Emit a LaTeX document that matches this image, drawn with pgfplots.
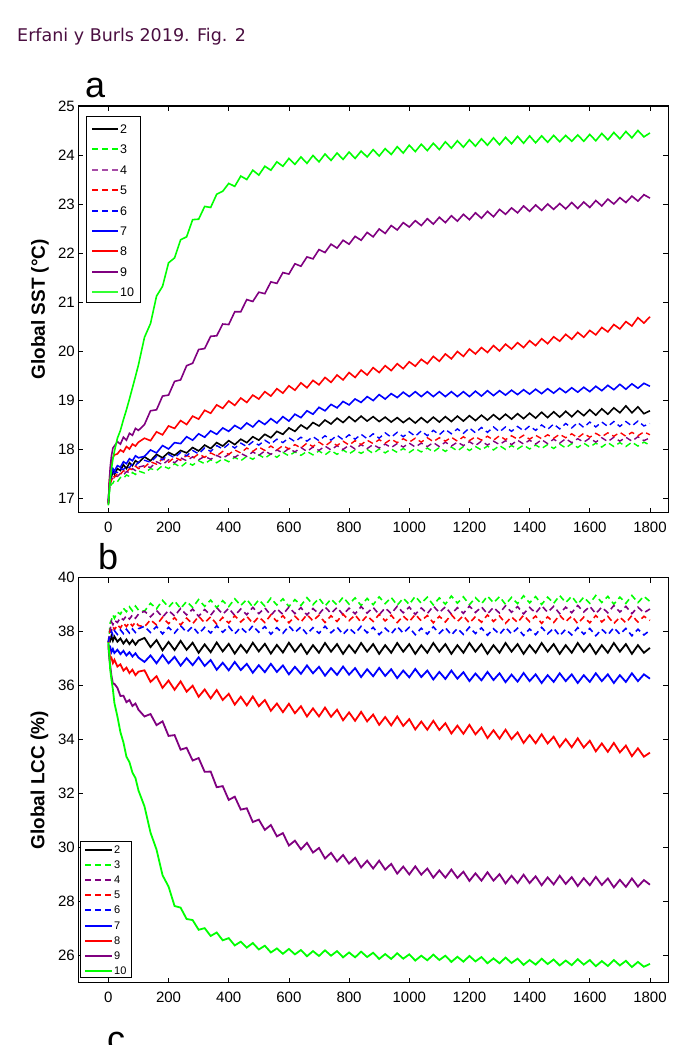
\documentclass[border=0pt]{standalone}
\usepackage{fontspec}
\setmainfont{Liberation Sans}
\newfontfamily\titlefont{DejaVu Sans}
\usepackage{pgfplots}
\usepackage{pgfplotstable}
\pgfplotsset{compat=1.18}
\definecolor{mgreen}{RGB}{0,255,0}
\definecolor{mpurple}{RGB}{128,0,128}
\definecolor{mblue}{RGB}{0,0,255}
\definecolor{mred}{RGB}{255,0,0}
\definecolor{titlecol}{HTML}{4A0E40}

\pgfplotstableread{
t s2 s3 s4 s5 s6 s7 s8 s9 s10
0 16.92 16.85 16.90 16.88 16.90 16.93 16.90 16.87 16.86
3 17.20 17.08 17.15 17.20 17.22 17.25 17.32 17.30 17.15
6 17.38 17.22 17.26 17.30 17.35 17.42 17.55 17.62 17.38
10 17.42 17.28 17.38 17.35 17.45 17.50 17.72 17.85 17.58
15 17.55 17.30 17.40 17.46 17.48 17.60 17.82 18.02 17.80
20 17.48 17.36 17.45 17.42 17.53 17.55 17.88 18.06 17.95
30 17.60 17.33 17.44 17.50 17.52 17.66 17.90 18.15 18.22
40 17.56 17.42 17.50 17.48 17.60 17.63 17.98 18.10 18.38
50 17.68 17.40 17.47 17.56 17.58 17.74 17.94 18.24 18.60
60 17.60 17.47 17.54 17.52 17.65 17.70 18.05 18.18 18.80
70 17.72 17.44 17.52 17.60 17.62 17.80 18.00 18.32 19.02
80 17.66 17.52 17.60 17.58 17.70 17.76 18.10 18.28 19.25
90 17.76 17.48 17.56 17.65 17.66 17.86 18.06 18.42 19.48
100 17.72 17.55 17.63 17.60 17.73 17.82 18.14 18.38 19.72
120 17.84 17.51 17.66 17.63 17.77 17.85 18.22 18.50 20.28
140 17.76 17.60 17.62 17.74 17.73 17.98 18.17 18.78 20.56
160 17.89 17.56 17.74 17.69 17.85 17.92 18.35 18.80 21.12
180 17.82 17.66 17.68 17.80 17.78 18.07 18.29 19.08 21.32
200 17.93 17.60 17.78 17.73 17.89 18.00 18.47 19.10 21.80
220 17.87 17.70 17.72 17.83 17.82 18.13 18.42 19.38 21.90
240 17.97 17.63 17.82 17.77 17.93 18.11 18.58 19.41 22.27
260 17.92 17.73 17.76 17.87 17.86 18.25 18.50 19.70 22.33
280 18.03 17.67 17.84 17.81 17.97 18.18 18.67 19.75 22.68
300 17.96 17.76 17.78 17.90 17.90 18.31 18.61 20.03 22.69
320 18.08 17.70 17.85 17.83 18.02 18.24 18.79 20.05 22.95
340 18.01 17.78 17.79 17.92 17.95 18.37 18.73 20.30 22.93
360 18.13 17.72 17.87 17.86 18.07 18.30 18.90 20.31 23.20
380 18.06 17.80 17.81 17.95 18.00 18.43 18.83 20.55 23.26
400 18.17 17.74 17.89 17.89 18.10 18.36 18.98 20.54 23.42
420 18.09 17.83 17.83 17.98 18.02 18.48 18.89 20.80 23.36
440 18.20 17.76 17.91 17.92 18.12 18.41 19.04 20.80 23.57
460 18.13 17.85 17.85 18.02 18.05 18.53 18.95 21.05 23.50
480 18.25 17.79 17.94 17.95 18.15 18.45 19.10 21.01 23.69
500 18.18 17.88 17.87 18.04 18.08 18.58 19.02 21.20 23.59
520 18.30 17.81 17.96 17.97 18.18 18.50 19.17 21.17 23.77
540 18.23 17.90 17.89 18.06 18.10 18.62 19.08 21.41 23.69
560 18.36 17.83 17.98 17.98 18.20 18.53 19.23 21.38 23.86
580 18.30 17.93 17.92 18.07 18.13 18.66 19.14 21.60 23.77
600 18.43 17.86 18.01 18.00 18.23 18.57 19.29 21.57 23.93
620 18.36 17.94 17.94 18.09 18.15 18.71 19.20 21.78 23.81
640 18.49 17.87 18.03 18.02 18.24 18.64 19.35 21.73 23.96
660 18.41 17.95 17.95 18.12 18.16 18.78 19.25 21.92 23.83
680 18.54 17.88 18.04 18.05 18.25 18.71 19.40 21.88 23.99
700 18.47 17.96 17.97 18.14 18.17 18.85 19.31 22.07 23.86
720 18.59 17.88 18.06 18.06 18.27 18.78 19.46 22.01 24.02
740 18.51 17.97 17.98 18.15 18.18 18.91 19.36 22.18 23.89
760 18.63 17.89 18.07 18.07 18.28 18.84 19.51 22.10 24.04
780 18.54 17.98 17.99 18.16 18.19 18.97 19.41 22.26 23.91
800 18.66 17.90 18.08 18.08 18.29 18.90 19.56 22.18 24.06
820 18.56 17.98 18.00 18.17 18.20 19.02 19.46 22.34 23.93
840 18.67 17.91 18.09 18.09 18.30 18.95 19.61 22.26 24.08
860 18.57 17.99 18.01 18.18 18.21 19.07 19.51 22.42 23.96
880 18.66 17.91 18.09 18.11 18.31 18.99 19.66 22.33 24.11
900 18.56 18.00 18.02 18.19 18.22 19.11 19.56 22.49 23.98
920 18.65 17.92 18.10 18.12 18.33 19.02 19.70 22.40 24.13
940 18.55 18.00 18.03 18.20 18.24 19.13 19.60 22.56 24.01
960 18.64 17.93 18.11 18.13 18.34 19.05 19.74 22.47 24.17
980 18.54 18.01 18.04 18.21 18.25 19.16 19.64 22.62 24.04
1000 18.63 17.93 18.12 18.14 18.35 19.07 19.78 22.53 24.20
1020 18.53 18.01 18.04 18.22 18.26 19.17 19.69 22.66 24.07
1040 18.64 17.94 18.12 18.14 18.37 19.07 19.83 22.56 24.22
1060 18.54 18.02 18.05 18.23 18.27 19.17 19.74 22.70 24.09
1080 18.65 17.94 18.13 18.15 18.38 19.07 19.89 22.59 24.24
1100 18.55 18.03 18.05 18.23 18.29 19.17 19.79 22.73 24.11
1120 18.66 17.95 18.14 18.16 18.40 19.07 19.94 22.62 24.27
1140 18.56 18.04 18.06 18.24 18.31 19.17 19.84 22.76 24.14
1160 18.67 17.96 18.14 18.16 18.41 19.07 19.99 22.65 24.29
1180 18.57 18.05 18.07 18.25 18.32 19.17 19.89 22.79 24.16
1200 18.68 17.97 18.15 18.17 18.43 19.07 20.04 22.68 24.31
1220 18.58 18.05 18.07 18.25 18.33 19.18 19.94 22.82 24.18
1240 18.69 17.98 18.16 18.18 18.44 19.08 20.07 22.71 24.33
1260 18.59 18.06 18.08 18.26 18.34 19.19 19.97 22.85 24.20
1280 18.70 17.98 18.16 18.18 18.45 19.09 20.11 22.74 24.35
1300 18.60 18.07 18.09 18.27 18.35 19.19 20.00 22.89 24.21
1320 18.71 17.99 18.17 18.19 18.45 19.10 20.14 22.79 24.36
1340 18.61 18.07 18.09 18.27 18.36 19.20 20.04 22.92 24.23
1360 18.72 18.00 18.18 18.20 18.46 19.11 20.17 22.82 24.38
1380 18.62 18.08 18.10 18.28 18.37 19.21 20.07 22.96 24.24
1400 18.73 18.00 18.18 18.20 18.47 19.12 20.21 22.85 24.39
1420 18.63 18.08 18.10 18.28 18.38 19.22 20.11 22.98 24.25
1440 18.75 18.01 18.19 18.21 18.49 19.13 20.25 22.87 24.39
1460 18.64 18.09 18.11 18.29 18.40 19.23 20.15 23.00 24.26
1480 18.76 18.01 18.20 18.22 18.51 19.14 20.29 22.89 24.40
1500 18.65 18.10 18.12 18.30 18.41 19.24 20.20 23.01 24.27
1520 18.77 18.02 18.21 18.23 18.52 19.15 20.34 22.90 24.40
1540 18.66 18.11 18.13 18.31 18.43 19.25 20.24 23.03 24.28
1560 18.78 18.03 18.21 18.23 18.54 19.16 20.38 22.91 24.41
1580 18.68 18.12 18.14 18.32 18.44 19.26 20.28 23.04 24.28
1600 18.80 18.04 18.22 18.24 18.55 19.17 20.42 22.93 24.42
1620 18.69 18.12 18.14 18.32 18.45 19.28 20.33 23.07 24.29
1640 18.82 18.04 18.23 18.25 18.55 19.19 20.48 22.96 24.44
1660 18.71 18.13 18.15 18.33 18.46 19.30 20.39 23.10 24.31
1680 18.84 18.05 18.24 18.26 18.56 19.21 20.54 23.00 24.46
1700 18.74 18.13 18.16 18.34 18.46 19.32 20.45 23.13 24.33
1720 18.88 18.05 18.24 18.26 18.56 19.22 20.60 23.03 24.48
1740 18.74 18.14 18.16 18.34 18.47 19.33 20.51 23.16 24.35
1760 18.86 18.06 18.25 18.27 18.57 19.24 20.68 23.06 24.50
1780 18.72 18.14 18.17 18.35 18.47 19.34 20.57 23.19 24.37
1800 18.78 18.08 18.23 18.29 18.52 19.28 20.70 23.12 24.45
}\tabA

\pgfplotstableread{
t s2 s3 s4 s5 s6 s7 s8 s9 s10
0 37.60 37.55 37.60 37.58 37.62 37.55 37.50 37.45 37.60
3 37.75 37.90 37.95 37.76 37.80 37.42 37.30 37.02 37.15
6 37.68 38.33 38.08 38.05 37.80 37.44 37.00 36.76 36.60
10 37.84 38.42 38.37 38.03 38.02 37.24 37.04 36.38 36.25
15 37.67 38.62 38.26 38.20 37.88 37.36 36.84 36.08 35.86
20 37.82 38.50 38.42 38.07 38.04 37.21 36.96 36.07 35.36
30 37.63 38.72 38.34 38.25 37.90 37.33 36.71 35.92 34.86
40 37.75 38.65 38.52 38.14 38.07 37.17 36.79 35.62 34.28
50 37.56 38.87 38.44 38.32 37.93 37.29 36.56 35.63 33.90
60 37.71 38.74 38.59 38.19 38.09 37.12 36.67 35.39 33.37
70 37.54 38.92 38.47 38.34 37.95 37.24 36.47 35.47 33.17
80 37.69 38.77 38.62 38.21 38.10 37.08 36.59 35.25 32.78
90 37.52 38.95 38.50 38.36 37.97 37.20 36.39 35.34 32.58
100 37.67 38.80 38.65 38.23 38.11 37.04 36.52 35.11 32.12
120 37.77 38.76 38.76 38.18 38.20 36.88 36.57 34.86 31.53
140 37.43 39.05 38.55 38.44 37.97 37.12 36.14 34.95 30.56
160 37.69 38.85 38.79 38.25 38.19 36.83 36.35 34.54 29.93
180 37.31 39.16 38.54 38.53 37.92 37.14 35.92 34.68 28.98
200 37.62 38.91 38.79 38.30 38.16 36.83 36.19 34.14 28.56
220 37.32 39.14 38.58 38.52 37.95 37.07 35.85 34.17 27.84
240 37.66 38.86 38.86 38.25 38.22 36.74 36.16 33.63 27.78
260 37.33 39.12 38.62 38.50 37.98 37.02 35.78 33.70 27.36
280 37.59 38.90 38.84 38.29 38.19 36.76 36.00 33.23 27.32
300 37.22 39.19 38.57 38.57 37.92 37.05 35.59 33.32 26.96
320 37.53 38.94 38.82 38.33 38.16 36.73 35.86 32.81 27.02
340 37.24 39.17 38.61 38.55 37.95 36.95 35.53 32.82 26.73
360 37.60 38.89 38.89 38.28 38.22 36.59 35.84 32.24 26.86
380 37.27 39.15 38.65 38.53 37.98 36.85 35.47 32.28 26.57
400 37.55 38.93 38.87 38.32 38.19 36.57 35.70 31.77 26.65
420 37.19 39.22 38.60 38.59 37.92 36.88 35.30 31.89 26.38
440 37.51 38.97 38.84 38.36 38.16 36.58 35.59 31.41 26.52
460 37.23 39.20 38.63 38.57 37.95 36.81 35.27 31.46 26.30
480 37.59 38.91 38.90 38.31 38.22 36.48 35.60 30.95 26.47
500 37.27 39.18 38.67 38.55 37.98 36.76 35.24 31.04 26.23
520 37.55 38.95 38.88 38.34 38.19 36.50 35.47 30.66 26.37
540 37.19 39.24 38.61 38.62 37.91 36.81 35.07 30.84 26.12
560 37.51 38.99 38.85 38.38 38.15 36.51 35.34 30.42 26.27
580 37.23 39.22 38.64 38.59 37.94 36.75 35.02 30.54 26.07
600 37.59 38.93 38.91 38.33 38.21 36.42 35.33 30.08 26.25
620 37.26 39.19 38.67 38.57 37.97 36.70 34.98 30.26 26.05
640 37.54 38.97 38.89 38.36 38.18 36.44 35.24 29.94 26.21
660 37.18 39.26 38.62 38.63 37.91 36.75 34.86 30.18 25.98
680 37.50 39.00 38.86 38.40 38.15 36.46 35.16 29.82 26.17
700 37.22 39.24 38.65 38.61 37.94 36.70 34.86 29.99 25.99
720 37.58 38.95 38.92 38.34 38.20 36.37 35.19 29.60 26.20
740 37.26 39.21 38.68 38.59 37.96 36.65 34.85 29.81 26.00
760 37.54 38.99 38.90 38.38 38.17 36.40 35.11 29.49 26.17
780 37.18 39.28 38.63 38.65 37.90 36.71 34.72 29.73 25.94
800 37.50 39.02 38.87 38.41 38.14 36.41 35.01 29.41 26.12
820 37.22 39.25 38.66 38.62 37.93 36.65 34.70 29.63 25.94
840 37.58 38.97 38.93 38.35 38.20 36.32 35.03 29.27 26.15
860 37.26 39.23 38.69 38.59 37.96 36.61 34.68 29.52 25.95
880 37.54 39.00 38.90 38.38 38.16 36.35 34.93 29.23 26.11
900 37.18 39.29 38.63 38.64 37.89 36.66 34.55 29.52 25.88
920 37.50 39.04 38.88 38.40 38.13 36.36 34.84 29.19 26.06
940 37.22 39.27 38.67 38.61 37.92 36.61 34.53 29.40 25.88
960 37.58 38.98 38.94 38.34 38.19 36.28 34.86 29.04 26.09
980 37.26 39.24 38.70 38.58 37.95 36.56 34.51 29.30 25.89
1000 37.54 39.01 38.91 38.37 38.16 36.31 34.76 29.01 26.05
1020 37.18 39.31 38.64 38.64 37.89 36.62 34.38 29.31 25.82
1040 37.50 39.05 38.88 38.40 38.13 36.32 34.67 29.00 26.00
1060 37.22 39.28 38.67 38.60 37.91 36.56 34.37 29.23 25.83
1080 37.58 38.99 38.95 38.33 38.18 36.23 34.70 28.89 26.04
1100 37.26 39.25 38.71 38.57 37.94 36.51 34.36 29.16 25.84
1120 37.54 39.02 38.92 38.36 38.15 36.25 34.61 28.89 26.00
1140 37.18 39.32 38.65 38.63 37.88 36.56 34.23 29.19 25.77
1160 37.50 39.06 38.89 38.38 38.12 36.26 34.52 28.88 25.96
1180 37.22 39.29 38.68 38.59 37.90 36.50 34.22 29.11 25.78
1200 37.58 39.00 38.95 38.32 38.17 36.17 34.55 28.77 25.99
1220 37.26 39.26 38.71 38.56 37.93 36.45 34.20 29.05 25.79
1240 37.54 39.03 38.92 38.35 38.14 36.20 34.45 28.78 25.95
1260 37.18 39.32 38.66 38.62 37.87 36.51 34.06 29.09 25.72
1280 37.50 39.07 38.90 38.38 38.11 36.21 34.35 28.78 25.90
1300 37.22 39.30 38.69 38.58 37.90 36.46 34.04 29.02 25.72
1320 37.58 39.01 38.96 38.31 38.16 36.13 34.37 28.68 25.93
1340 37.26 39.27 38.72 38.55 37.92 36.41 34.02 28.96 25.73
1360 37.54 39.04 38.93 38.34 38.13 36.15 34.27 28.69 25.89
1380 37.18 39.33 38.66 38.61 37.86 36.47 33.88 29.00 25.66
1400 37.50 39.07 38.90 38.37 38.10 36.17 34.17 28.69 25.84
1420 37.22 39.30 38.69 38.58 37.89 36.42 33.87 28.94 25.67
1440 37.58 39.01 38.96 38.31 38.16 36.10 34.20 28.61 25.89
1460 37.26 39.28 38.72 38.55 37.92 36.39 33.86 28.90 25.69
1480 37.54 39.05 38.94 38.34 38.13 36.14 34.11 28.64 25.86
1500 37.18 39.34 38.67 38.61 37.85 36.46 33.73 28.96 25.64
1520 37.50 39.08 38.91 38.37 38.09 36.17 34.02 28.66 25.82
1540 37.22 39.31 38.70 38.58 37.88 36.42 33.72 28.91 25.65
1560 37.58 39.02 38.97 38.30 38.15 36.10 34.05 28.58 25.87
1580 37.26 39.28 38.73 38.54 37.91 36.39 33.71 28.87 25.67
1600 37.54 39.05 38.94 38.33 38.12 36.14 33.96 28.61 25.84
1620 37.18 39.34 38.67 38.60 37.85 36.46 33.57 28.92 25.61
1640 37.50 39.08 38.91 38.36 38.09 36.17 33.86 28.62 25.80
1660 37.22 39.31 38.70 38.57 37.88 36.42 33.55 28.86 25.62
1680 37.58 39.02 38.97 38.30 38.15 36.10 33.88 28.53 25.84
1700 37.26 39.28 38.73 38.54 37.91 36.39 33.53 28.81 25.64
1720 37.54 39.05 38.94 38.33 38.12 36.14 33.78 28.55 25.81
1740 37.18 39.34 38.67 38.60 37.85 36.46 33.39 28.86 25.58
1760 37.50 39.08 38.91 38.36 38.09 36.17 33.68 28.56 25.77
1780 37.22 39.31 38.70 38.57 37.88 36.42 33.37 28.80 25.59
1800 37.40 39.12 38.84 38.42 38.05 36.26 33.52 28.63 25.70
}\tabB

\pgfplotsset{
  panel/.style={
    scale only axis, width=590pt, anchor=south west,
    xmin=-100, xmax=1861,
    xtick={0,200,...,1800},
    tick align=inside,
    major tick length=5pt,
    axis line style={line width=1.1pt},
    tick style={black, line width=0.7pt},
    tick label style={font=\fontsize{15}{18}\selectfont},
    xticklabel style={yshift=-6pt},
    /pgf/number format/assume math mode=true,
    /pgf/number format/1000 sep={},
    ylabel style={anchor=center, font=\bfseries\fontsize{19}{22}\selectfont},
  },
}
\tikzset{dsh/.style={dash pattern=on 6pt off 4pt}}

\begin{document}
\begin{tikzpicture}
\useasboundingbox (0pt,0pt) rectangle (687pt,1045pt);

\begin{axis}[panel, at={(78.3pt,532.3pt)}, height=406.7pt,
  ymin=16.7, ymax=25, ytick={17,18,...,25},
  ylabel={Global SST (°C)},
  ylabel style={at={(axis description cs:-0.065,0.5)}},
]
\addplot[black, line width=1.6pt] table[x=t, y=s2] {\tabA};
\addplot[mgreen, line width=1.4pt, dsh] table[x=t, y=s3] {\tabA};
\addplot[mpurple, line width=1.4pt, dsh] table[x=t, y=s4] {\tabA};
\addplot[mred, line width=1.4pt, dsh] table[x=t, y=s5] {\tabA};
\addplot[mblue, line width=1.4pt, dsh] table[x=t, y=s6] {\tabA};
\addplot[mblue, line width=1.6pt] table[x=t, y=s7] {\tabA};
\addplot[mred, line width=1.6pt] table[x=t, y=s8] {\tabA};
\addplot[mpurple, line width=1.6pt] table[x=t, y=s9] {\tabA};
\addplot[mgreen, line width=1.6pt] table[x=t, y=s10] {\tabA};
\end{axis}

\begin{axis}[panel, at={(78.3pt,62.3pt)}, height=405pt,
  ymin=25, ymax=40, ytick={26,28,...,40},
  ylabel={Global LCC (\%)},
  ylabel style={at={(axis description cs:-0.066,0.5)}},
]
\addplot[black, line width=1.8pt] table[x=t, y=s2] {\tabB};
\addplot[mgreen, line width=1.6pt, dsh] table[x=t, y=s3] {\tabB};
\addplot[mpurple, line width=1.6pt, dsh] table[x=t, y=s4] {\tabB};
\addplot[mred, line width=1.6pt, dsh] table[x=t, y=s5] {\tabB};
\addplot[mblue, line width=1.6pt, dsh] table[x=t, y=s6] {\tabB};
\addplot[mblue, line width=1.8pt] table[x=t, y=s7] {\tabB};
\addplot[mred, line width=1.8pt] table[x=t, y=s8] {\tabB};
\addplot[mpurple, line width=1.8pt] table[x=t, y=s9] {\tabB};
\addplot[mgreen, line width=1.8pt] table[x=t, y=s10] {\tabB};
\end{axis}

% legend boxes and key lines
\draw[black, line width=1pt, fill=white] (86.7pt,928pt) rectangle (140pt,742pt);
\draw[black, line width=1pt, fill=white] (80pt,203pt) rectangle (131pt,67pt);
% panel a keys
\draw[black, line width=1.5pt] (92pt,916pt) -- (118pt,916pt);
\draw[mgreen, line width=1.5pt, dsh] (92pt,896pt) -- (118pt,896pt);
\draw[mpurple!70, line width=1.8pt, dsh] (92pt,875pt) -- (118pt,875pt);
\draw[mred, line width=1.5pt, dsh] (92pt,855pt) -- (118pt,855pt);
\draw[mblue, line width=1.5pt, dsh] (92pt,834pt) -- (118pt,834pt);
\draw[mblue, line width=1.5pt] (92pt,814pt) -- (118pt,814pt);
\draw[mred, line width=1.5pt] (92pt,794pt) -- (118pt,794pt);
\draw[mpurple, line width=1.5pt] (92pt,773pt) -- (118pt,773pt);
\draw[mgreen!80, line width=2pt] (92pt,753pt) -- (118pt,753pt);
% panel b keys
\draw[black, line width=1.5pt] (85pt,195pt) -- (112pt,195pt);
\draw[mgreen, line width=1.5pt, dsh] (85pt,180pt) -- (112pt,180pt);
\draw[mpurple, line width=1.5pt, dsh] (85pt,165pt) -- (112pt,165pt);
\draw[mred, line width=1.5pt, dsh] (85pt,150pt) -- (112pt,150pt);
\draw[mblue, line width=1.5pt, dsh] (85pt,135pt) -- (112pt,135pt);
\draw[mblue, line width=1.5pt] (85pt,119pt) -- (112pt,119pt);
\draw[mred, line width=1.5pt] (85pt,104pt) -- (112pt,104pt);
\draw[mpurple, line width=1.5pt] (85pt,89pt) -- (112pt,89pt);
\draw[mgreen, line width=1.5pt] (85pt,74pt) -- (112pt,74pt);

% texts
\begin{scope}[font=\fontsize{12.5}{14}\selectfont]
\node[anchor=west, inner sep=0pt] at (120pt,916pt) {2};
\node[anchor=west, inner sep=0pt] at (120pt,896pt) {3};
\node[anchor=west, inner sep=0pt] at (120pt,875pt) {4};
\node[anchor=west, inner sep=0pt] at (120pt,855pt) {5};
\node[anchor=west, inner sep=0pt] at (120pt,834pt) {6};
\node[anchor=west, inner sep=0pt] at (120pt,814pt) {7};
\node[anchor=west, inner sep=0pt] at (120pt,794pt) {8};
\node[anchor=west, inner sep=0pt] at (120pt,773pt) {9};
\node[anchor=west, inner sep=0pt] at (120pt,753pt) {10};
\end{scope}
\begin{scope}[font=\fontsize{11}{13}\selectfont]
\node[anchor=west, inner sep=0pt] at (114pt,195pt) {2};
\node[anchor=west, inner sep=0pt] at (114pt,180pt) {3};
\node[anchor=west, inner sep=0pt] at (114pt,165pt) {4};
\node[anchor=west, inner sep=0pt] at (114pt,150pt) {5};
\node[anchor=west, inner sep=0pt] at (114pt,135pt) {6};
\node[anchor=west, inner sep=0pt] at (114pt,119pt) {7};
\node[anchor=west, inner sep=0pt] at (114pt,104pt) {8};
\node[anchor=west, inner sep=0pt] at (114pt,89pt) {9};
\node[anchor=west, inner sep=0pt] at (114pt,74pt) {10};
\end{scope}
\node[anchor=base west, inner sep=0pt, text=titlecol, font=\titlefont\fontsize{17.5}{20}\selectfont] at (17pt,1003pt) {Erfani y Burls 2019. Fig. 2};
\node[anchor=base west, inner sep=0pt, font=\fontsize{36}{40}\selectfont] at (85pt,947pt) {a};
\node[anchor=base west, inner sep=0pt, font=\fontsize{36}{40}\selectfont] at (98pt,475pt) {b};
\node[anchor=base west, inner sep=0pt, font=\fontsize{36}{40}\selectfont] at (107pt,-6pt) {c};
\end{tikzpicture}
\end{document}
